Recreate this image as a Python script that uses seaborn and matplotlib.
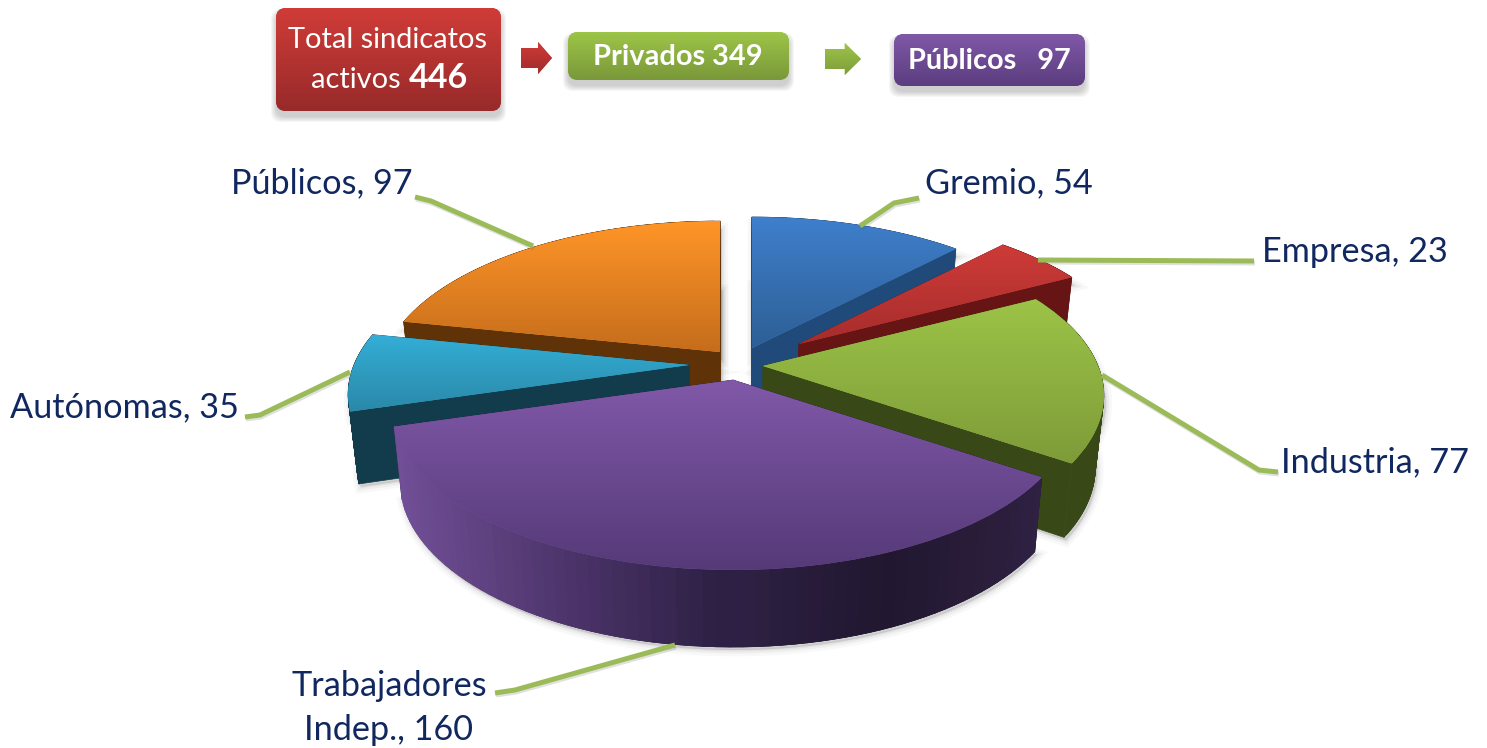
import numpy as np
import matplotlib
matplotlib.use("Agg")
import matplotlib.pyplot as plt
import matplotlib.transforms as mtransforms
from matplotlib.collections import PolyCollection
from matplotlib.patches import FancyBboxPatch, Polygon
import seaborn as sns

categories = ["Gremio", "Empresa", "Industria", "Trabajadores\nIndep.", "Autónomas", "Públicos"]
values = [54, 23, 77, 160, 35, 97]
total_activos = 446
total_privados = 349
total_publicos = 97

# pixel centre of every exploded slice
apex_x = [752, 799, 763, 733, 689, 720]
apex_y = [348, 344, 366, 380, 365, 352]
draw_order = [0, 1, 5, 4, 2, 3]

top_colors = [("#3f7fcc", "#2d5f95"), ("#cf3b38", "#a52d2c"), ("#9cc447", "#7e9b39"),
              ("#8058a8", "#553a78"), ("#34aed6", "#2a88a8"), ("#ff9528", "#c56d1c")]
side_colors = ["#1f4a7a", "#661414", "#384817", "#1a1a1a", "#123c4c", "#5f3208"]
purple_side = ["#735099", "#50376f", "#2f2146", "#21172f", "#2f2142"]

label_x = [925, 1262, 1281, 389, 10, 231]
label_y = [183, 252, 462, 708, 407, 183]
label_ha = ["left", "left", "left", "center", "left", "left"]

leaders = [[(860, 226), (894, 203), (919, 198)],
           [(1038, 260), (1254, 261)],
           [(1102, 375), (1259, 470), (1278, 472)],
           [(675, 645), (515, 690), (495, 693)],
           [(350, 372), (260, 415), (245, 417)],
           [(533, 246), (431, 201), (415, 197)]]


def ground_to_pixels(xy, apex):
    # simple perspective of the pie plane, far side is smaller
    s = 1 / (1 + 0.184 * xy[:, 1])
    return np.column_stack([apex[0] + 335 * xy[:, 0] * s, apex[1] - 155 * xy[:, 1] * s])


def drop(pts):
    # same points at the lower face of the slab
    return np.column_stack([735 + (pts[:, 0] - 735) * 0.977, pts[:, 1] + 72 + 0.03 * (pts[:, 1] - 400)])


class Ground(mtransforms.Transform):
    input_dims = output_dims = 2

    def __init__(self, apex):
        super().__init__()
        self.apex = apex

    def transform_non_affine(self, values):
        return ground_to_pixels(np.asarray(values), self.apex)


def gradient_in(patch, colors, z, box):
    cmap = sns.blend_palette(colors, as_cmap=True)
    grad = np.linspace(0, 1, 256)[:, None]
    im = ax.imshow(grad, extent=(box[0], box[1], box[3], box[2]), aspect="auto", cmap=cmap,
                   vmin=0, vmax=1, zorder=z, interpolation="bilinear")
    im.set_clip_path(patch)


def box_with_text(x0, y0, x1, y1, colors):
    for k in range(6):
        ax.add_patch(FancyBboxPatch((x0 - k, y0 + 6 - k), x1 - x0 + 2 * k, y1 - y0 + 2 * k,
                                    boxstyle="round,pad=0,rounding_size=10", fc="#555555",
                                    ec="none", alpha=0.05, zorder=1))
    p = FancyBboxPatch((x0, y0), x1 - x0, y1 - y0, boxstyle="round,pad=0,rounding_size=10",
                       fc=colors[0], ec="none", zorder=2)
    ax.add_patch(p)
    gradient_in(p, colors, 3, (x0, x1, y0, y1))


def arrow(x0, x1, y0, y1, colors):
    neck = x0 + (x1 - x0) * 0.55
    ym = (y0 + y1) / 2
    pts = [(x0, ym - 10), (neck, ym - 10), (neck, y0), (x1, ym), (neck, y1), (neck, ym + 10), (x0, ym + 10)]
    p = Polygon(pts, closed=True, fc=colors[0], ec="none", zorder=2)
    ax.add_patch(p)
    gradient_in(p, colors, 3, (x0, x1, y0, y1))


sns.set_theme(style="white")
plt.rcParams["font.family"] = ["Lato", "DejaVu Sans"]

fig = plt.figure(figsize=(14.87, 7.48), dpi=100)
ax = fig.add_axes([0, 0, 1, 1])
wedges, _ = ax.pie(values, startangle=90, counterclock=False)
ax.set_aspect("auto")

for rank, i in enumerate(draw_order):
    w = wedges[i]
    apex = (apex_x[i], apex_y[i])
    base_z = 5 + rank
    theta = np.radians(np.linspace(w.theta1, w.theta2, 70))
    arc = ground_to_pixels(np.column_stack([np.cos(theta), np.sin(theta)]), apex)
    outline = np.vstack([[apex], arc, [apex]])
    lower = drop(outline)

    # soft shadow behind the whole pie
    for lw, a in [(9, 0.04), (5, 0.06), (2, 0.08)]:
        ax.fill(lower[:, 0] + 2, lower[:, 1] + 3, color="#555555", lw=lw, alpha=a, zorder=1)
        ax.fill(outline[:, 0] + 2, outline[:, 1] + 8, color="#555555", lw=lw, alpha=a, zorder=1)

    # arc quads reach over the next one so no seams show
    n = len(outline)
    quads = []
    for k in range(n - 1):
        nxt = k + 2 if 1 <= k < n - 3 else k + 1
        quads.append(np.vstack([outline[k], outline[nxt], lower[nxt], lower[k]]))
    order = np.argsort([q[:2, 1].mean() for q in quads])
    if i == 3:
        shade = sns.blend_palette(purple_side, as_cmap=True)
        x_mid = np.array([q[:, 0].mean() for q in quads])
        face = [shade((x_mid[k] - arc[:, 0].min()) / (arc[:, 0].max() - arc[:, 0].min())) for k in order]
        radial = [k in (0, len(quads) - 1) for k in order]
        face = ["#2c1f40" if r else f for r, f in zip(radial, face)]
    else:
        face = [side_colors[i]] * len(quads)
    ax.add_collection(PolyCollection([quads[k] for k in order], facecolors=face, edgecolors=face,
                                     linewidths=0.5, zorder=base_z))

    w.set_transform(Ground(apex) + ax.transData)
    w.set_facecolor(top_colors[i][0])
    w.set_edgecolor("none")
    w.set_zorder(base_z + 0.2)
    gradient_in(w, top_colors[i], base_z + 0.4,
                (outline[:, 0].min(), outline[:, 0].max(), outline[:, 1].min(), outline[:, 1].max()))

    label = f"{categories[i]}, {values[i]}"
    ax.text(label_x[i], label_y[i], label, color="#10275f", fontsize=24.7, ha=label_ha[i], va="center",
            linespacing=1.44, zorder=30)

for pts in leaders:
    xs, ys = zip(*pts)
    ax.plot([x + 1 for x in xs], [y + 2 for y in ys], color="#555555", lw=3.6, alpha=0.18, zorder=19,
            solid_capstyle="butt")
    ax.plot(xs, ys, color="#9bbb59", lw=3.6, zorder=20, solid_capstyle="butt", solid_joinstyle="miter")

# summary boxes on top
box_with_text(276, 8, 501, 111, ("#d03c38", "#972a2a"))
box_with_text(568, 32, 789, 80, ("#9dc548", "#79983a"))
box_with_text(894, 34, 1085, 86, ("#8058a8", "#5b3d7f"))
arrow(521, 552, 42, 74, ("#cf3b38", "#a02c2b"))
arrow(825, 861, 43, 75, ("#9dc548", "#7e9c3b"))

ax.text(388, 40, "Total sindicatos", color="white", fontsize=20.9, ha="center", va="center", zorder=10)
ax.text(401, 80, "activos", color="white", fontsize=20.9, ha="right", va="center", zorder=10)
ax.text(409, 78, str(total_activos), color="white", fontsize=24.5, fontweight="bold", ha="left", va="center", zorder=10)
ax.text(678, 57, f"Privados {total_privados}", color="white", fontsize=20.9, fontweight="bold",
        ha="center", va="center", zorder=10)
ax.text(989, 61, f"Públicos   {total_publicos}", color="white", fontsize=20.8, fontweight="bold",
        ha="center", va="center", zorder=10)

ax.set_xlim(0, 1487)
ax.set_ylim(748, 0)
ax.axis("off")
fig.savefig("out.png", dpi=100)
